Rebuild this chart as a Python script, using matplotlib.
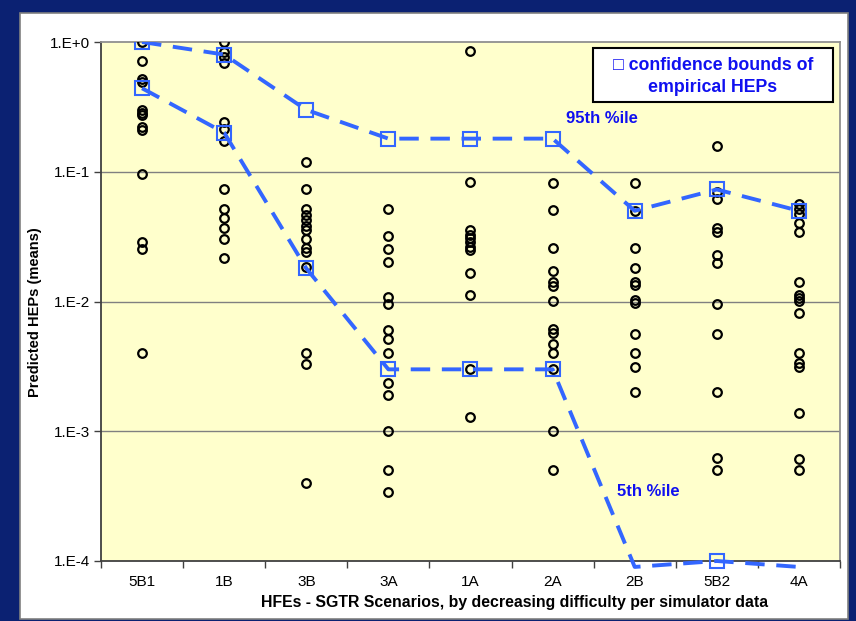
import numpy as np
import matplotlib.pyplot as plt
from matplotlib.patches import Rectangle

plt.rcParams['font.family'] = ['Liberation Sans', 'DejaVu Sans']

scenarios = ['5B1', '1B', '3B', '3A', '1A', '2A', '2B', '5B2', '4A']

# predicted HEPs (means) per scenario
hep_5b1 = [1.0, 0.714, 0.519, 0.492, 0.299, 0.285, 0.274, 0.221, 0.210, 0.096,
           0.0288, 0.0254, 0.0040]
hep_1b = [1.0, 0.837, 0.766, 0.689, 0.242, 0.212, 0.174, 0.0736, 0.0516, 0.0444,
          0.0368, 0.0303, 0.0216]
hep_3b = [0.119, 0.0736, 0.0516, 0.0464, 0.0425, 0.0384, 0.0356, 0.0303, 0.0258,
          0.0241, 0.0185, 0.0040, 0.0033, 0.0004]
hep_3a = [0.0516, 0.0318, 0.0252, 0.0200, 0.0109, 0.0096, 0.0060, 0.0051, 0.0040,
          0.00234, 0.0019, 0.0010, 0.0005, 0.00034]
hep_1a = [0.853, 0.0838, 0.0356, 0.0326, 0.0306, 0.0289, 0.0264, 0.0249, 0.0167,
          0.0112, 0.0030, 0.00129]
hep_2a = [0.0823, 0.0507, 0.0260, 0.0172, 0.0142, 0.0132, 0.0101, 0.0061, 0.0057,
          0.0047, 0.0040, 0.0030, 0.0010, 0.0005]
hep_2b = [0.0815, 0.0502, 0.0257, 0.0180, 0.0142, 0.0133, 0.0103, 0.0097, 0.0056,
          0.0040, 0.0031, 0.0020]
hep_5b2 = [0.159, 0.0702, 0.0617, 0.0367, 0.0341, 0.0228, 0.0197, 0.0095, 0.0056,
           0.0020, 0.00062, 0.0005]
hep_4a = [0.0561, 0.0515, 0.0472, 0.0405, 0.0341, 0.0142, 0.0112, 0.0106, 0.0101,
          0.0081, 0.0040, 0.00336, 0.0031, 0.00139, 0.00061, 0.0005]

heps = [hep_5b1, hep_1b, hep_3b, hep_3a, hep_1a, hep_2a, hep_2b, hep_5b2, hep_4a]

# confidence bounds of empirical HEPs
p95 = [1.0, 0.80, 0.30, 0.18, 0.18, 0.18, 0.050, 0.073, 0.050]
p05 = [0.44, 0.20, 0.018, 0.003, 0.003, 0.003, 0.00009, 0.0001, 0.00009]

ytick_vals = [1e-4, 1e-3, 1e-2, 1e-1, 1e0]
ytick_labels = ['1.E-4', '1.E-3', '1.E-2', '1.E-1', '1.E+0']

navy = '#0b2172'
blue = '#3366ff'
txtblue = '#1010f0'

fig = plt.figure(figsize=(8.56, 6.21), dpi=100, facecolor=navy)
fig.patches.append(Rectangle((20 / 856, 2 / 621), 828 / 856, 606 / 621,
                             transform=fig.transFigure, facecolor='white',
                             edgecolor='#808080', linewidth=1.2, zorder=-1))

ax = fig.add_axes([101 / 856, 1 - 561 / 621, 739 / 856, 519 / 621])
ax.set_facecolor('#ffffcc')
ax.set_yscale('log')
ax.set_ylim(1e-4, 1e0)
ax.set_xlim(-0.5, len(scenarios) - 0.5)

for yv in [1e-1, 1e-2, 1e-3]:
    ax.axhline(yv, color='#808080', lw=1.0, zorder=1)

x = np.arange(len(scenarios))
for i, vals in enumerate(heps):
    ax.plot([i] * len(vals), vals, 'o', ls='none', ms=6.2, mfc='none',
            mec='black', mew=1.6, zorder=3)

dash = (5, 3)
ax.plot(x, p95, color=blue, lw=2.8, dashes=dash, zorder=4)
ax.plot(x, p05, color=blue, lw=2.8, dashes=dash, zorder=4, clip_on=False)
p95 = np.array(p95)
p05 = np.array(p05)
ax.plot(x, p95, 's', ls='none', ms=10.5, mfc='none', mec=blue, mew=1.5, zorder=5)
inside = p05 >= 1e-4
ax.plot(x[inside], p05[inside], 's', ls='none', ms=10.5, mfc='none', mec=blue,
        mew=1.5, zorder=5, clip_on=False)

ax.text(0.629, 0.852, '95th %ile', transform=ax.transAxes, color=txtblue,
        fontsize=12, fontweight='bold', va='center', ha='left')
ax.text(0.698, 0.133, '5th %ile', transform=ax.transAxes, color=txtblue,
        fontsize=12, fontweight='bold', va='center', ha='left')

ax.add_patch(Rectangle((0.666, 0.884), 0.3245, 0.104, transform=ax.transAxes,
                       facecolor='white', edgecolor='black', lw=1.5, zorder=6))
ax.text(0.828, 0.934, '\u25a1 confidence bounds of\nempirical HEPs',
        transform=ax.transAxes, color=txtblue, fontsize=12.8, fontweight='bold',
        ha='center', va='center', multialignment='center', linespacing=1.4,
        zorder=7)

ax.set_yticks(ytick_vals)
ax.set_yticklabels(ytick_labels)
ax.yaxis.set_minor_locator(plt.NullLocator())
ax.tick_params(axis='y', which='major', direction='out', length=5, width=1,
               color='#404040', labelsize=11, pad=3)

ax.set_xticks(np.arange(-0.5, len(scenarios)), minor=False)
ax.set_xticklabels([])
ax.set_xticks(x, minor=True)
ax.set_xticklabels(scenarios, minor=True)
ax.tick_params(axis='x', which='major', direction='out', length=5, width=1,
               color='#404040')
ax.tick_params(axis='x', which='minor', length=0, labelsize=11, pad=10)

for s in ['left', 'bottom']:
    ax.spines[s].set_color('#404040')
    ax.spines[s].set_linewidth(1.3)
for s in ['top', 'right']:
    ax.spines[s].set_color('#909090')
    ax.spines[s].set_linewidth(1.3)

ax.set_ylabel('Predicted HEPs (means)', fontsize=10.5, fontweight='bold',
              va='center')
ax.yaxis.set_label_coords(-0.0893, 0.48)
ax.set_xlabel('HFEs - SGTR Scenarios, by decreasing difficulty per simulator data',
              fontsize=11.4, fontweight='bold', va='center')
ax.xaxis.set_label_coords(0.559, -0.0809)

fig.savefig('out.png', dpi=100, facecolor=navy)
